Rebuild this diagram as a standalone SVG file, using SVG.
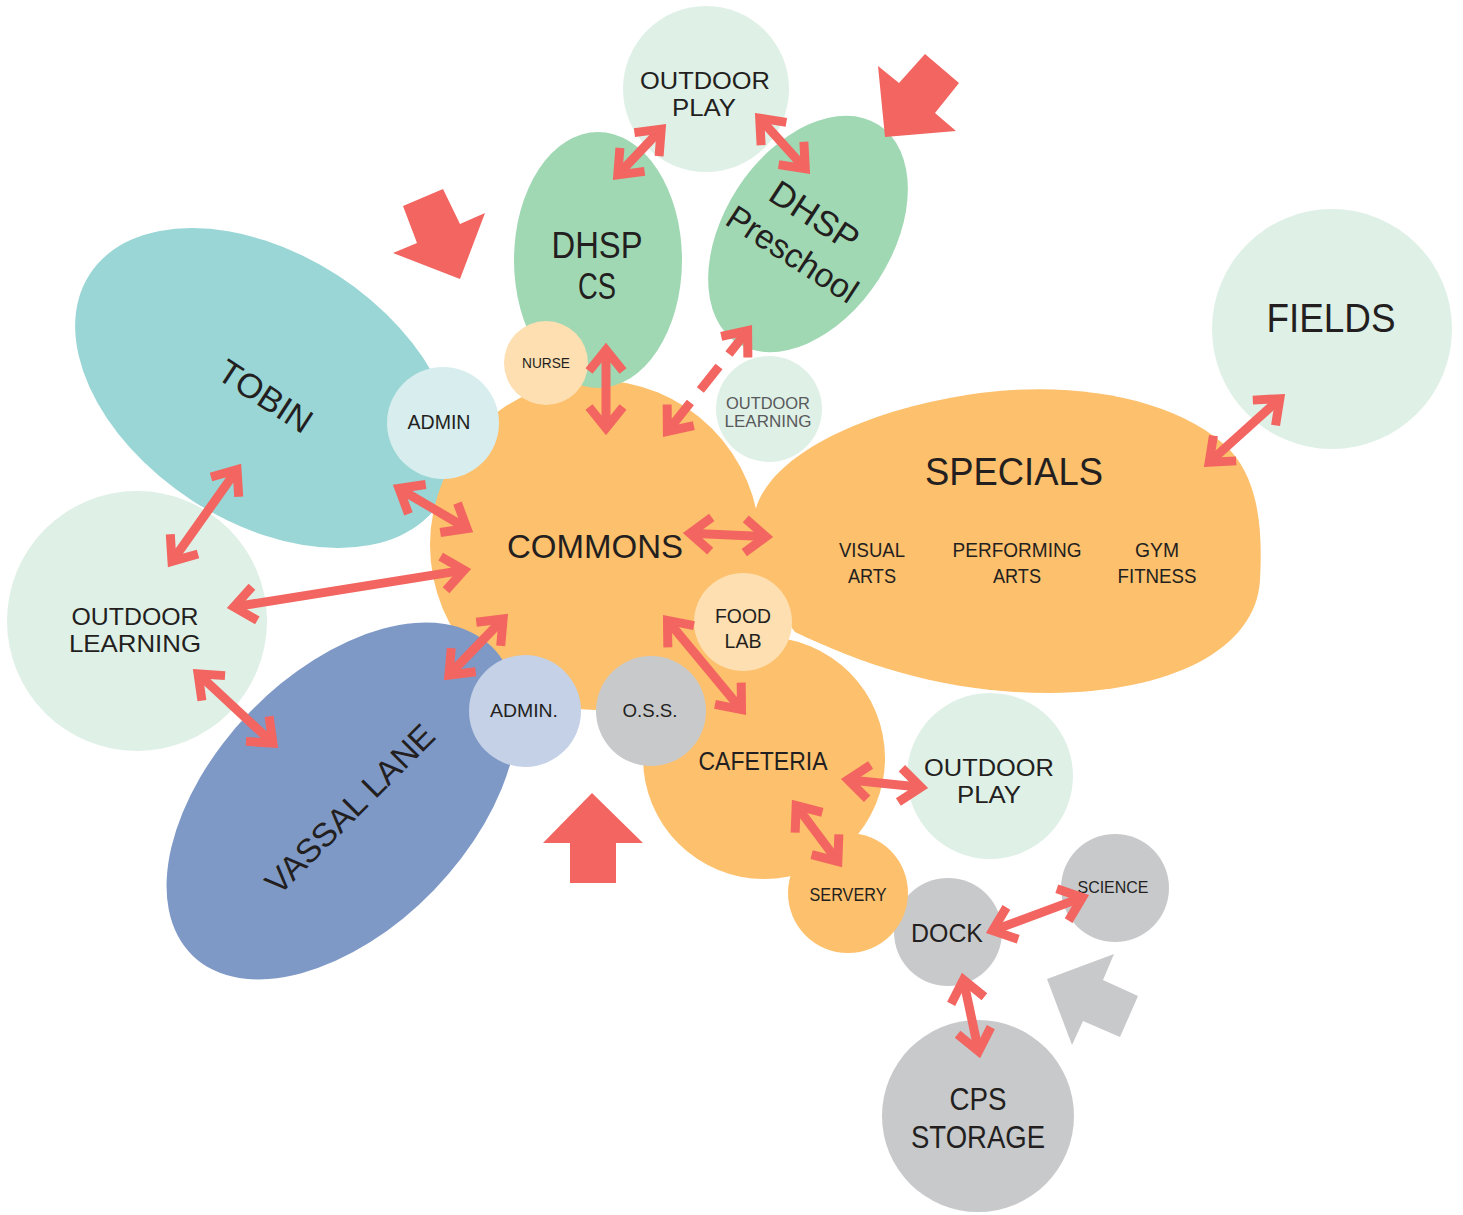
<svg xmlns="http://www.w3.org/2000/svg" width="1463" height="1215" viewBox="0 0 1463 1215">
<style>
.t{font-family:"Liberation Sans",Arial,sans-serif;fill:#231F20;text-anchor:middle}
.g{fill:#58595B}
.or{fill:#FDC06C}
.lg{fill:#DFF0E6}
.gr{fill:#A0D8B3}
.gy{fill:#C8C9CB}
.pe{fill:#FDDFB1}
.lk{stroke:#F26560;stroke-width:9;fill:none;marker-start:url(#ah);marker-end:url(#ah)}
.dash{stroke-dasharray:30 16}
.big{fill:#F26560}
</style>
<defs>
<marker id="ah" markerUnits="userSpaceOnUse" viewBox="-40 -30 50 60" markerWidth="50" markerHeight="60" refX="0" refY="0" orient="auto-start-reverse" overflow="visible">
<path d="M -21,-17 L 0,0 L -21,17" fill="none" stroke="#F26560" stroke-width="9" stroke-linejoin="miter" stroke-miterlimit="10"/>
</marker>
</defs>

<g id="tobin">
<ellipse cx="265" cy="388" rx="209" ry="134" transform="rotate(33 265 388)" fill="#99D6D5"/>
<text class="t" font-size="34" textLength="105" lengthAdjust="spacingAndGlyphs" transform="translate(259,406) rotate(33)">TOBIN</text>
</g>

<g id="commons">
<circle cx="595" cy="545" r="165" class="or"/>
</g>
<g id="specials">
<path class="or" d="M 757,505 C 775,455 860,410 980,393 C 1080,380 1180,400 1230,450 C 1262,485 1262,540 1260,580 C 1256,650 1170,692 1050,693 C 950,693 870,668 795,632 L 740,560 Z"/>
<text class="t" x="1014" y="485" font-size="38" textLength="178" lengthAdjust="spacingAndGlyphs">SPECIALS</text>
<text class="t" x="872" y="557" font-size="20" textLength="66" lengthAdjust="spacingAndGlyphs">VISUAL</text>
<text class="t" x="872" y="583" font-size="20" textLength="48" lengthAdjust="spacingAndGlyphs">ARTS</text>
<text class="t" x="1017" y="557" font-size="20" textLength="129" lengthAdjust="spacingAndGlyphs">PERFORMING</text>
<text class="t" x="1017" y="583" font-size="20" textLength="48" lengthAdjust="spacingAndGlyphs">ARTS</text>
<text class="t" x="1157" y="557" font-size="20" textLength="44" lengthAdjust="spacingAndGlyphs">GYM</text>
<text class="t" x="1157" y="583" font-size="20" textLength="79" lengthAdjust="spacingAndGlyphs">FITNESS</text>
</g>
<g id="cafeteria">
<circle cx="764" cy="758" r="121" class="or"/>
<text class="t" x="763" y="770" font-size="25" textLength="129" lengthAdjust="spacingAndGlyphs">CAFETERIA</text>
</g>
<g id="commons-label">
<text class="t" x="595" y="558" font-size="34" textLength="176" lengthAdjust="spacingAndGlyphs">COMMONS</text>
</g>

<g id="dhsp-cs">
<ellipse cx="598" cy="260" rx="84" ry="128" class="gr"/>
<text class="t" x="597" y="258" font-size="36" textLength="91" lengthAdjust="spacingAndGlyphs">DHSP</text>
<text class="t" x="597" y="299" font-size="36" textLength="38" lengthAdjust="spacingAndGlyphs">CS</text>
</g>

<g id="outdoor-play-top">
<circle cx="706" cy="89" r="83" class="lg"/>
<text class="t" x="705" y="89" font-size="24" textLength="130" lengthAdjust="spacingAndGlyphs">OUTDOOR</text>
<text class="t" x="704" y="116" font-size="24" textLength="64" lengthAdjust="spacingAndGlyphs">PLAY</text>
</g>

<g id="dhsp-preschool">
<ellipse cx="808" cy="234" rx="130" ry="84" transform="rotate(-57 808 234)" class="gr"/>
<text class="t" font-size="35" textLength="99" lengthAdjust="spacingAndGlyphs" transform="translate(808,226) rotate(33)">DHSP</text>
<text class="t" font-size="34" textLength="149" lengthAdjust="spacingAndGlyphs" transform="translate(786,264) rotate(33)">Preschool</text>
</g>

<g id="fields">
<circle cx="1332" cy="329" r="120" class="lg"/>
<text class="t" x="1331" y="332" font-size="40" textLength="129" lengthAdjust="spacingAndGlyphs">FIELDS</text>
</g>

<g id="outdoor-learning-left">
<circle cx="137" cy="621" r="130" class="lg"/>
<text class="t" x="135" y="625" font-size="24" textLength="127" lengthAdjust="spacingAndGlyphs">OUTDOOR</text>
<text class="t" x="135" y="652" font-size="24" textLength="132" lengthAdjust="spacingAndGlyphs">LEARNING</text>
</g>

<g id="vassal-lane">
<ellipse cx="342" cy="801" rx="215" ry="128" transform="rotate(-46 342 801)" fill="#7F99C7"/>
<text class="t" font-size="33" textLength="224" lengthAdjust="spacingAndGlyphs" transform="translate(358,817) rotate(-45)">VASSAL LANE</text>
</g>

<g id="outdoor-learning-small">
<circle cx="769" cy="409" r="53" class="lg"/>
<text class="t g" x="768" y="409" font-size="16" textLength="84" lengthAdjust="spacingAndGlyphs">OUTDOOR</text>
<text class="t g" x="768" y="427" font-size="16" textLength="87" lengthAdjust="spacingAndGlyphs">LEARNING</text>
</g>

<g id="nurse">
<circle cx="546" cy="363" r="42" class="pe"/>
<text class="t" x="546" y="368" font-size="15" textLength="48" lengthAdjust="spacingAndGlyphs">NURSE</text>
</g>

<g id="admin-tobin">
<circle cx="443" cy="423" r="56" fill="#D7EDEE"/>
<text class="t" x="439" y="429" font-size="20" textLength="63" lengthAdjust="spacingAndGlyphs">ADMIN</text>
</g>

<g id="admin-vassal">
<circle cx="525" cy="711" r="56" fill="#C5D1E6"/>
<text class="t" x="524" y="717" font-size="19" textLength="68" lengthAdjust="spacingAndGlyphs">ADMIN.</text>
</g>

<g id="oss">
<circle cx="651" cy="711" r="55" class="gy"/>
<text class="t" x="650" y="717" font-size="19" textLength="55" lengthAdjust="spacingAndGlyphs">O.S.S.</text>
</g>

<g id="food-lab">
<circle cx="743" cy="622" r="49" class="pe"/>
<text class="t" x="743" y="623" font-size="21" textLength="56" lengthAdjust="spacingAndGlyphs">FOOD</text>
<text class="t" x="743" y="648" font-size="21" textLength="37" lengthAdjust="spacingAndGlyphs">LAB</text>
</g>

<g id="outdoor-play-right">
<circle cx="990" cy="776" r="83" class="lg"/>
<text class="t" x="989" y="776" font-size="24" textLength="130" lengthAdjust="spacingAndGlyphs">OUTDOOR</text>
<text class="t" x="989" y="803" font-size="24" textLength="64" lengthAdjust="spacingAndGlyphs">PLAY</text>
</g>

<g id="dock">
<circle cx="948" cy="932" r="54" class="gy"/>
<text class="t" x="947" y="942" font-size="26" textLength="72" lengthAdjust="spacingAndGlyphs">DOCK</text>
</g>

<g id="servery">
<circle cx="848" cy="893" r="60" class="or"/>
<text class="t" x="848" y="901" font-size="18" textLength="77" lengthAdjust="spacingAndGlyphs">SERVERY</text>
</g>

<g id="science">
<circle cx="1115" cy="888" r="54" class="gy"/>
<text class="t" x="1113" y="893" font-size="17" textLength="71" lengthAdjust="spacingAndGlyphs">SCIENCE</text>
</g>

<g id="cps-storage">
<circle cx="978" cy="1116" r="96" class="gy"/>
<text class="t" x="978" y="1110" font-size="31" textLength="57" lengthAdjust="spacingAndGlyphs">CPS</text>
<text class="t" x="978" y="1148" font-size="31" textLength="134" lengthAdjust="spacingAndGlyphs">STORAGE</text>
</g>

<g id="entry-arrows">
<polygon class="big" points="403,206 443,189 460,224 485,213 460,279 393,253 417,243"/>
<polygon class="big" points="878,66 899,83 925,54 959,83 935,113 956,131 885,137"/>
<polygon class="big" points="592,793 643,843 616,843 616,883 570,883 570,843 543,843"/>
<polygon fill="#C8C9CB" points="1047,979 1114,954 1103,980 1138,996 1120,1037 1083,1021 1072,1045"/>
</g>

<g id="connectors">
<line class="lk" x1="759.7" y1="118.2" x2="805.3" y2="168.8"/>
<line class="lk" x1="661.2" y1="129.1" x2="617.8" y2="174.9"/>
<line class="lk" x1="606" y1="350" x2="606" y2="428"/>
<line class="lk dash" x1="747.6" y1="330.5" x2="667.4" y2="431.5"/>
<line class="lk" x1="237" y1="469.7" x2="172" y2="561.3"/>
<line class="lk" x1="399" y1="488.5" x2="467" y2="528.5"/>
<line class="lk" x1="233.9" y1="606.9" x2="464.1" y2="570.1"/>
<line class="lk" x1="198.1" y1="673.8" x2="272.9" y2="743.2"/>
<line class="lk" x1="448.9" y1="675" x2="503.1" y2="619"/>
<line class="lk" x1="690" y1="533.3" x2="766" y2="536.7"/>
<line class="lk" x1="1279.8" y1="398.7" x2="1209.2" y2="462.3"/>
<line class="lk" x1="667.5" y1="620.4" x2="741.5" y2="709.6"/>
<line class="lk" x1="848" y1="779.7" x2="921" y2="787.3"/>
<line class="lk" x1="796.2" y1="805.6" x2="837.8" y2="861.4"/>
<line class="lk" x1="992.6" y1="930.6" x2="1082.4" y2="897.4"/>
<line class="lk" x1="963.4" y1="979.8" x2="978.6" y2="1051.2"/>
</g>
</svg>
